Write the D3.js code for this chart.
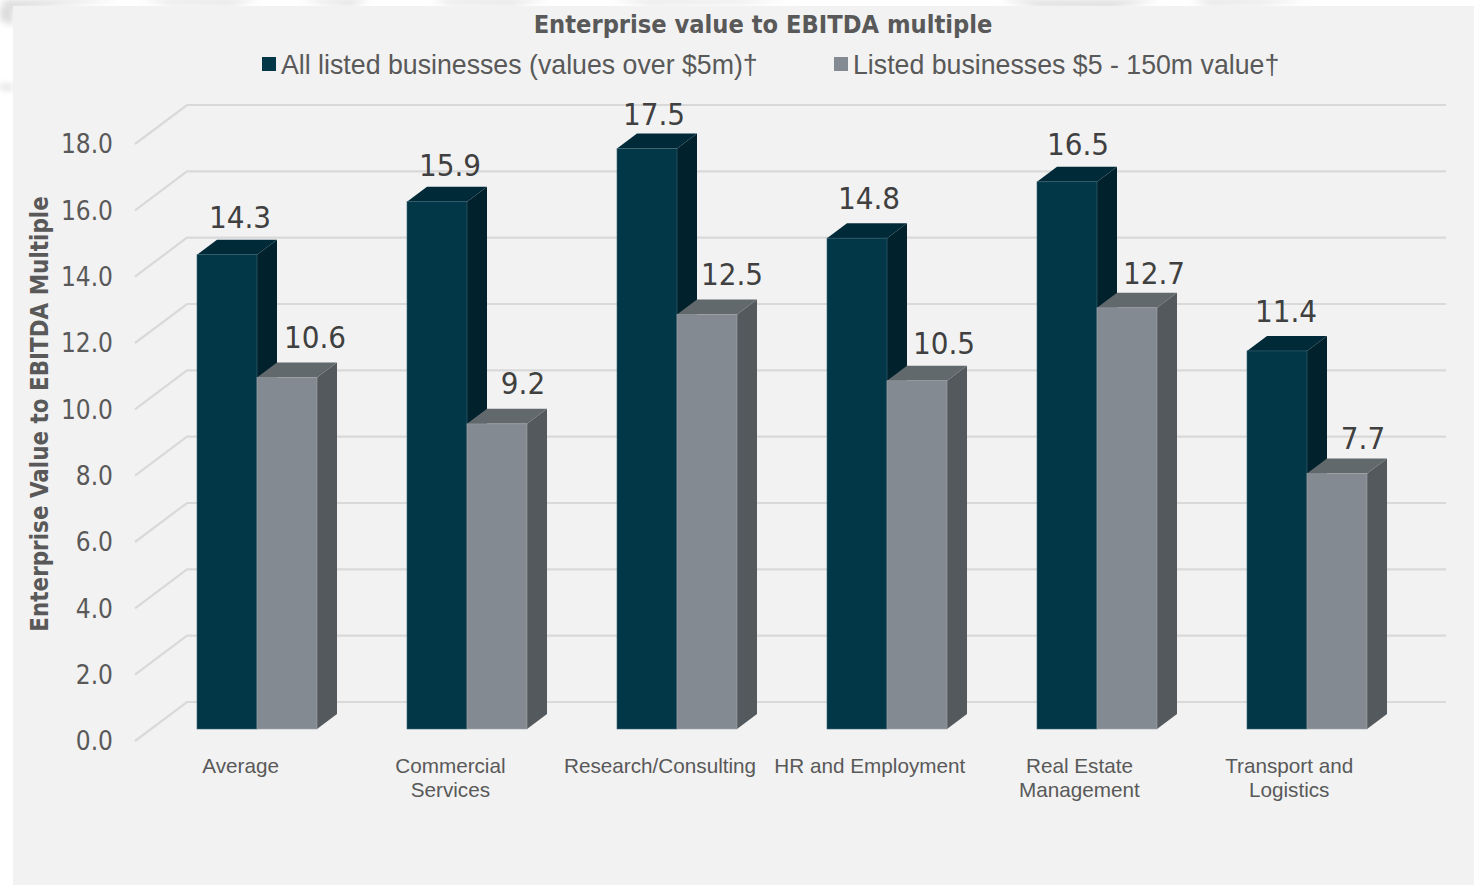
<!DOCTYPE html>
<html>
<head>
<meta charset="utf-8">
<script src="https://cdn.jsdelivr.net/npm/d3@7/dist/d3.min.js"></script>
<style>
html, body { margin: 0; padding: 0; background: #fff; overflow: hidden; }
svg { display: block; }
</style>
</head>
<body>
<svg id="chart" width="1474" height="886"></svg>
<script>
const categories = [["Average"], ["Commercial", "Services"], ["Research/Consulting"], ["HR and Employment"], ["Real Estate", "Management"], ["Transport and", "Logistics"]];
const allListed = [14.3, 15.9, 17.5, 14.8, 16.5, 11.4];
const smallListed = [10.6, 9.2, 12.5, 10.5, 12.7, 7.7];
const tickValues = [0, 2, 4, 6, 8, 10, 12, 14, 16, 18];
const seriesNames = ["All listed businesses (values over $5m)†", "Listed businesses $5 - 150m value†"];

// Hand placement of the value labels relative to their default anchor, [dx, dy]
const allLabelNudge = [[0, -1], [0, 0], [-6, 2], [-1, -3], [-2, -1], [-4, -3]];
const smallLabelNudge = [[-1, -1], [-3, -2], [-4, -1], [-2, 1], [-2, 4], [-3, 3]];

const humanist = "'DejaVu Sans Condensed', 'DejaVu Sans', sans-serif";
const arial = "'Liberation Sans', Arial, sans-serif";

const svg = d3.select("#chart");

// Marbled page backdrop that shows around the panel's top and left edges
const defs = svg.append("defs");
defs.append("filter").attr("id", "soft")
  .attr("x", "-20%").attr("y", "-200%").attr("width", "140%").attr("height", "500%")
  .append("feGaussianBlur").attr("stdDeviation", 3);
const smudges = [
  [[0, 0], [120, 0], [60, 5], [10, 9]],
  [[140, 0], [260, 0], [230, 5], [170, 4]],
  [[300, 0], [370, 0], [350, 6], [320, 3]],
  [[430, 0], [550, 0], [510, 5], [450, 4]],
  [[610, 0], [790, 0], [740, 3], [650, 4]],
  [[1000, 0], [1160, 0], [1110, 8], [1040, 7]],
  [[1190, 0], [1310, 0], [1260, 4], [1210, 5]],
  [[0, 6], [13, 6], [13, 26], [0, 20]],
  [[0, 84], [13, 85], [13, 90], [0, 89]]
];
svg.append("g").attr("filter", "url(#soft)").selectAll("path").data(smudges).join("path")
  .attr("d", d => d3.line()(d) + "Z").attr("fill", "#dcdcdc");

// Panel
svg.append("rect").attr("x", 13).attr("y", 6).attr("width", 1461).attr("height", 879).attr("fill", "#f2f2f2");

const y = d3.scaleLinear().domain([0, 18]).range([729, 132]);
const x = d3.scaleBand().domain(d3.range(categories.length)).range([197, 1457]).padding(0);
const barW = 60, dx = 20, dy = 15;

// Floor and wall grid: slanted run on the left, then along the back wall
const gridOffsetBack = -27, gridOffsetFront = 12;
const grid = svg.append("g").attr("fill", "none").attr("stroke", "#d9d9d9").attr("stroke-width", 2.2);
grid.selectAll("path").data(tickValues).join("path")
  .attr("d", v => d3.line()([[135, y(v) + gridOffsetFront], [187, y(v) + gridOffsetBack], [1446, y(v) + gridOffsetBack]]));

// Value axis labels
svg.append("g").selectAll("text").data(tickValues).join("text")
  .attr("x", 113).attr("y", v => y(v) + gridOffsetFront + 9.4)
  .attr("text-anchor", "end").attr("font-family", humanist).attr("font-size", 26).attr("fill", "#595959")
  .text(v => v.toFixed(1));

function drawBar(g, px, value, front, top, side, edge) {
  const yt = y(value), yb = y(0);
  g.append("path").attr("fill", side)
    .attr("d", d3.line()([[px + barW, yt], [px + barW + dx, yt - dy], [px + barW + dx, yb - dy], [px + barW, yb]]));
  g.append("path").attr("fill", top)
    .attr("d", d3.line()([[px, yt], [px + dx, yt - dy], [px + barW + dx, yt - dy], [px + barW, yt]]));
  g.append("rect").attr("x", px).attr("y", yt).attr("width", barW).attr("height", yb - yt)
    .attr("fill", front).attr("stroke", edge).attr("stroke-width", 0.6);
}

const bars = svg.append("g");
categories.forEach((c, i) => {
  const g = bars.append("g");
  const px = x(i);
  drawBar(g, px, allListed[i], "#023748", "#012a38", "#01222d", "#3c6473");
  drawBar(g, px + barW, smallListed[i], "#838a91", "#62696c", "#53595d", "#a0a6ab");
});

// Data labels
const labels = svg.append("g").attr("font-family", humanist).attr("font-size", 31).attr("fill", "#404040").attr("text-anchor", "middle");
categories.forEach((c, i) => {
  const px = x(i);
  labels.append("text").attr("x", px + 43 + allLabelNudge[i][0]).attr("y", y(allListed[i]) - 26 + allLabelNudge[i][1]).text(allListed[i].toFixed(1));
  labels.append("text").attr("x", px + 119 + smallLabelNudge[i][0]).attr("y", y(smallListed[i]) - 28 + smallLabelNudge[i][1]).text(smallListed[i].toFixed(1));
});

// Category labels
const cats = svg.append("g").attr("font-family", arial).attr("font-size", 20.7).attr("fill", "#595959").attr("text-anchor", "middle");
categories.forEach((lines, i) => {
  lines.forEach((t, j) => {
    cats.append("text").attr("x", x(i) + 43.7 - i * 0.3).attr("y", 773 + j * 24).text(t);
  });
});

// Title
svg.append("text").attr("x", 763).attr("y", 33).attr("text-anchor", "middle")
  .attr("font-family", humanist).attr("font-weight", "bold").attr("font-size", 25.2).attr("fill", "#595959")
  .text("Enterprise value to EBITDA multiple");

// Legend
const legendX = [262, 834], legendColors = ["#023748", "#838a91"];
seriesNames.forEach((name, i) => {
  svg.append("rect").attr("x", legendX[i]).attr("y", 57).attr("width", 14).attr("height", 14).attr("fill", legendColors[i]);
  svg.append("text").attr("x", legendX[i] + 19).attr("y", 74).attr("font-family", arial).attr("font-size", 26.72).attr("fill", "#595959").text(name);
});

// Axis title
svg.append("text").attr("transform", "translate(48,414) rotate(-90)").attr("text-anchor", "middle")
  .attr("font-family", humanist).attr("font-weight", "bold").attr("font-size", 23.9).attr("fill", "#595959")
  .text("Enterprise Value to EBITDA Multiple");
</script>
</body>
</html>
